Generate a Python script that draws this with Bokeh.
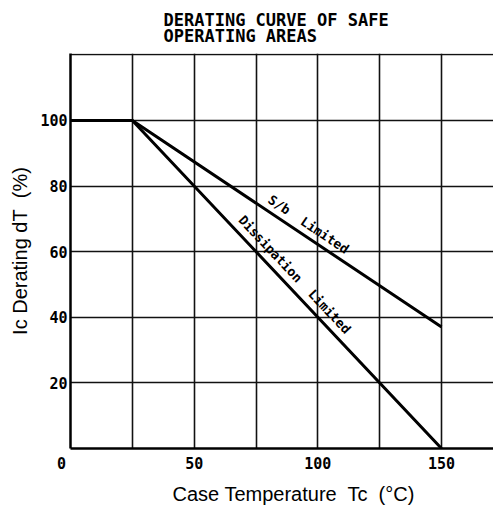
from bokeh.plotting import figure
from bokeh.models import Range1d, FixedTicker, Label, ColumnDataSource, Title
from bokeh.embed import file_html
from bokeh.resources import INLINE

# ---- data ----
sb_temp = [0, 25, 150]
sb_pct = [100, 100, 37]
diss_temp = [0, 25, 150]
diss_pct = [100, 100, 0]

x_tick_labels = [0, 50, 100, 150]
y_tick_labels = [20, 40, 60, 80, 100]
x_grid = [0, 25, 50, 75, 100, 125, 150]
y_grid = [0, 20, 40, 60, 80, 100, 120]

NB = "\u00a0"
title_lines = ["DERATING CURVE OF SAFE", "OPERATING AREAS"]
sb_label = "S/b" + NB + " Limited"
diss_label = "Dissipation" + NB + " Limited"
x_label = "Case Temperature" + NB + " Tc" + NB + " (°C)"
y_label = "Ic Derating dT" + NB + " (%)"

MONO = "DejaVu Sans Mono"
SANS = "Liberation Sans"

p = figure(width=493, height=512, output_backend="svg", toolbar_location=None,
           x_range=Range1d(0, 171), y_range=Range1d(0, 120.4),
           min_border_left=70, min_border_right=0, min_border_top=53, min_border_bottom=64)
p.outline_line_color = None
p.background_fill_color = "white"
p.border_fill_color = "white"

# grids
p.xgrid.ticker = FixedTicker(ticks=x_grid)
p.ygrid.ticker = FixedTicker(ticks=y_grid)
for g in (p.xgrid, p.ygrid):
    g.grid_line_color = "#111111"
    g.grid_line_width = 1.6
    g.grid_line_alpha = 1.0

# axes
p.xaxis.ticker = FixedTicker(ticks=x_tick_labels)
p.yaxis.ticker = FixedTicker(ticks=y_tick_labels)
p.xaxis.major_label_overrides = {0: "0" + NB + NB}
for ax in (p.xaxis, p.yaxis):
    ax.axis_line_width = 2.5
    ax.axis_line_color = "black"
    ax.major_tick_in = 0
    ax.major_tick_out = 0
    ax.minor_tick_in = 0
    ax.minor_tick_out = 0
    ax.major_label_text_font = MONO
    ax.major_label_text_font_style = "bold"
    ax.major_label_text_font_size = "15px"
    ax.major_label_text_color = "black"
    ax.axis_label_text_font = SANS
    ax.axis_label_text_font_style = "normal"
    ax.axis_label_text_font_size = "20px"
    ax.axis_label_text_color = "black"
p.xaxis.major_label_standoff = 6
p.yaxis.major_label_standoff = 3
p.yaxis.axis_label = y_label
p.yaxis.axis_label_standoff = 6

# x axis label as a left-aligned title below the axis
p.add_layout(Title(text=x_label, align="left", offset=102, text_font=SANS,
                   text_font_style="normal", text_font_size="20px",
                   text_color="black", standoff=10), "below")

# curves
src_sb = ColumnDataSource(dict(x=sb_temp, y=sb_pct))
src_d = ColumnDataSource(dict(x=diss_temp, y=diss_pct))
p.line("x", "y", source=src_sb, line_color="black", line_width=3)
p.line("x", "y", source=src_d, line_color="black", line_width=3)

# curve labels
p.add_layout(Label(x=96.2, y=68.3, text=sb_label, angle=-0.59, text_font=MONO,
                   text_font_style="bold", text_font_size="13px", text_align="center",
                   text_baseline="middle", text_color="black"))
p.add_layout(Label(x=90.6, y=53.0, text=diss_label, angle=-0.815, text_font=MONO,
                   text_font_style="bold", text_font_size="13px", text_align="center",
                   text_baseline="middle", text_color="black"))

# title (two lines)
p.add_layout(Title(text="\n".join(title_lines), align="left", offset=93, text_font=MONO,
                   text_font_style="bold", text_font_size="17px", text_color="black",
                   text_line_height=0.82, standoff=15), "above")

open("out.html", "w").write(file_html(p, INLINE))
